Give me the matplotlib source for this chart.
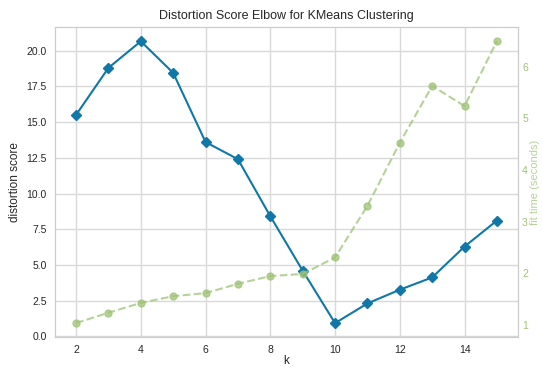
import matplotlib
matplotlib.use("Agg")
import matplotlib.pyplot as plt

# data
k_values = [2, 3, 4, 5, 6, 7, 8, 9, 10, 11, 12, 13, 14, 15]
distortion = [15.5, 18.79, 20.65, 18.44, 13.6, 12.4, 8.41, 4.6, 0.93, 2.31, 3.27, 4.13, 6.29, 8.11]
fit_time = [1.04, 1.24, 1.43, 1.56, 1.62, 1.80, 1.95, 1.99, 2.31, 3.31, 4.53, 5.63, 5.24, 6.50]

BLUE = "#0f78a8"
GREEN = "#9fc377"

plt.rcParams["font.family"] = ["Liberation Sans", "DejaVu Sans"]
plt.rcParams["text.color"] = "0.15"
plt.rcParams["axes.labelcolor"] = "0.15"
plt.rcParams["xtick.color"] = "0.15"
plt.rcParams["ytick.color"] = "0.15"

fig = plt.figure(figsize=(5.42, 3.67), dpi=100)
ax = fig.add_axes([0.1015, 0.0817, 0.8542, 0.8447])

ax.plot(k_values, distortion, color=BLUE, marker="D", markersize=5.5, linewidth=1.5)
ax.set_xlim(1.35, 15.65)
ax.set_ylim(-0.04, 21.65)
ax.set_xticks([2, 4, 6, 8, 10, 12, 14])
ax.set_yticks([0, 2.5, 5, 7.5, 10, 12.5, 15, 17.5, 20])
ax.set_yticklabels(["0.0", "2.5", "5.0", "7.5", "10.0", "12.5", "15.0", "17.5", "20.0"])
ax.grid(True, color="0.85", linewidth=1)
ax.set_axisbelow(True)
ax.tick_params(length=0, labelsize=7.5, pad=6)
for s in ax.spines.values():
    s.set_color("0.8")
ax.set_xlabel("k", fontsize=8.5, labelpad=0)
ax.set_ylabel("distortion score", fontsize=8.5)
ax.set_title("Distortion Score Elbow for KMeans Clustering", fontsize=9, pad=6)

ax2 = ax.twinx()
ax2.plot(k_values, fit_time, color=GREEN, marker="o", markersize=5, linestyle="--", linewidth=1.5, alpha=0.75)
ax2.set_ylim(0.77, 6.77)
ax2.set_yticks([1, 2, 3, 4, 5, 6])
ax2.grid(False)
ax2.tick_params(length=0, labelsize=7.5, colors=GREEN, pad=3)
for s in ax2.spines.values():
    s.set_color("0.8")
ax2.set_ylabel("fit time (seconds)", color=GREEN, fontsize=8, alpha=0.75, labelpad=1.5)

fig.savefig("out.png", dpi=100)
